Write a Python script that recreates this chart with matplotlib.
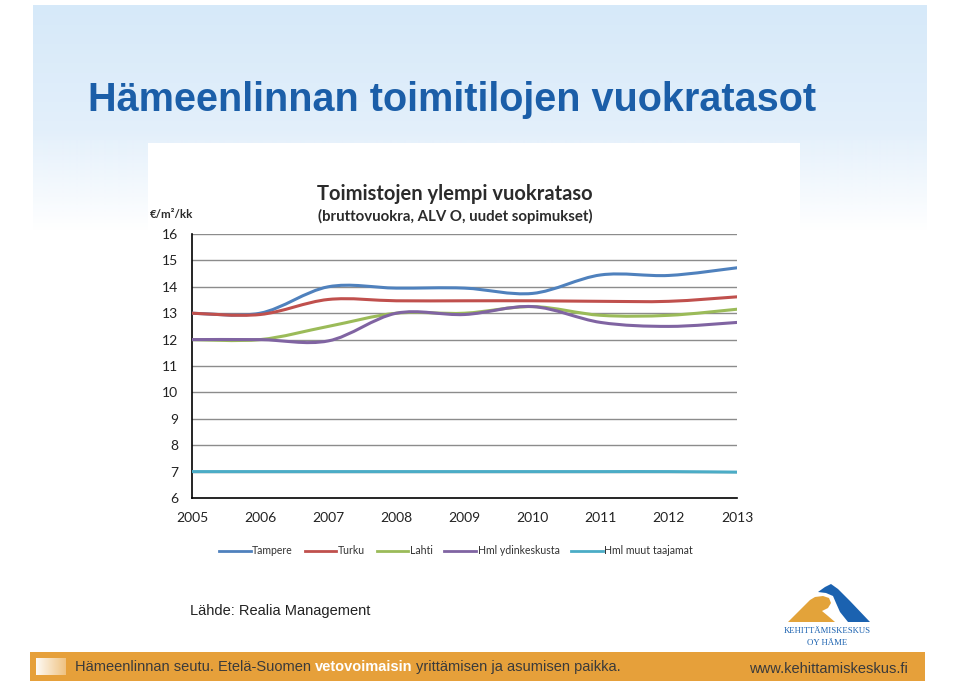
import numpy as np
import matplotlib
matplotlib.use("Agg")
import matplotlib.pyplot as plt
from matplotlib.path import Path
from matplotlib.patches import PathPatch, Rectangle, Polygon
from matplotlib.lines import Line2D

# ---------------- data ----------------
years = [2005, 2006, 2007, 2008, 2009, 2010, 2011, 2012, 2013]
tampere = [13.0, 13.0, 14.0, 13.95, 13.95, 13.75, 14.45, 14.43, 14.72]
turku = [13.0, 12.95, 13.52, 13.47, 13.47, 13.47, 13.45, 13.45, 13.62]
lahti = [12.0, 12.0, 12.5, 13.0, 13.0, 13.25, 12.92, 12.92, 13.15]
hml_ydin = [12.0, 12.0, 11.95, 13.0, 12.95, 13.25, 12.65, 12.5, 12.65]
hml_muut = [7.0, 7.0, 7.0, 7.0, 7.0, 7.0, 7.0, 7.0, 6.98]
series_names = ["Tampere", "Turku", "Lahti", "Hml ydinkeskusta", "Hml muut taajamat"]
series_values = [tampere, turku, lahti, hml_ydin, hml_muut]
series_colors = ["#4F81BD", "#C0504D", "#9BBB59", "#8064A2", "#4BACC6"]
y_ticks = list(range(6, 17))

W, H = 960, 687
fig = plt.figure(figsize=(W / 100, H / 100), dpi=100)
fig.patch.set_facecolor("white")

# ---------------- background / decoration (pixel coordinates) ----------------
bg = fig.add_axes([0, 0, 1, 1], zorder=0)
bg.set_xlim(0, W)
bg.set_ylim(H, 0)
bg.axis("off")

# light blue gradient band at top
gy0, gy1 = 5, 230
hh = gy1 - gy0
img = np.ones((hh, 2, 4))
top = np.array([214, 233, 249]) / 255.0
mid = np.array([228, 240, 251]) / 255.0
for i in range(hh):
    t = i / hh
    col = top + (mid - top) * min(1.0, t / 0.6)
    a = 1.0 if i < 125 else max(0.0, 1 - (i - 125) / (hh - 125))
    img[i, :, :3] = col
    img[i, :, 3] = a
bg.imshow(img, extent=(33, 927, gy1, gy0), aspect="auto", interpolation="bilinear", zorder=1)
# white chart box
bg.add_patch(Rectangle((148, 143), 652, 440, facecolor="white", edgecolor="none", zorder=2))

# main title
bg.text(88, 100, "Hämeenlinnan toimitilojen vuokratasot", fontsize=28.5, fontweight="bold",
        color="#1b5ea8", family="Liberation Sans", va="center", ha="left", zorder=3)

# chart titles
bg.text(455, 194, "Toimistojen ylempi vuokrataso", fontsize=14.5, fontweight="bold",
        color="#2b2b2b", family="Lato", va="center", ha="center", zorder=3)
bg.text(455, 216, "(bruttovuokra, ALV O, uudet sopimukset)", fontsize=10.8, fontweight="bold",
        color="#2b2b2b", family="Lato", va="center", ha="center", zorder=3)
bg.text(150, 214, "€/m²/kk", fontsize=8.3, fontweight="bold",
        color="#2b2b2b", family="Lato", va="center", ha="left", zorder=3)

# source
bg.text(190, 611, "Lähde: Realia Management", fontsize=10.5, color="#222222",
        family="Liberation Sans", va="center", ha="left", zorder=3)

# logo
orange = "#E3A33A"
blue = "#1B62B0"
bg.add_patch(Polygon([(788, 622), (800, 610), (810, 600), (815, 597), (823, 596),
                      (829, 598), (831, 603), (828, 608), (822, 611), (828, 616),
                      (835, 622)],
                     closed=True, facecolor=orange, edgecolor="none", zorder=3))
bg.add_patch(Polygon([(818, 592), (825, 587), (831, 584), (838, 589), (850, 601),
                      (870, 622), (848, 622), (840, 612), (836, 603), (833, 596),
                      (826, 593)],
                     closed=True, facecolor=blue, edgecolor="none", zorder=3))
bg.text(827, 631, "KEHITTÄMISKESKUS", fontsize=6.3, color=blue, family="Liberation Serif",
        va="center", ha="center", zorder=3)
bg.text(827, 643, "OY HÄME", fontsize=6.3, color=blue, family="Liberation Serif",
        va="center", ha="center", zorder=3)

# bottom banner
bg.add_patch(Rectangle((30, 652), 895, 29, facecolor="#E6A03A", edgecolor="none", zorder=2))
sq = np.ones((1, 30, 4))
for j in range(30):
    sq[0, j, :3] = 1.0
    sq[0, j, 3] = 0.95 - 0.6 * j / 30
bg.imshow(sq, extent=(36, 66, 675, 658), aspect="auto", interpolation="bilinear", zorder=3)

banner_kw = dict(fontsize=10.5, family="Liberation Sans", va="center", zorder=4)
t1 = bg.text(75, 667, "Hämeenlinnan seutu. Etelä-Suomen ", color="#3a3a3a", ha="left", **banner_kw)
fig.canvas.draw()
r = fig.canvas.get_renderer()
bb = t1.get_window_extent(r)
x2 = bb.x1
t2 = bg.text(x2, H - 667, "vetovoimaisin", color="white", fontweight="bold", ha="left",
             transform=None, **banner_kw)
bb2 = t2.get_window_extent(r)
bg.text(bb2.x1 + 3, H - 667, "yrittämisen ja asumisen paikka.", color="#3a3a3a", ha="left",
        transform=None, **banner_kw)
bg.text(908, 669, "www.kehittamiskeskus.fi", color="#3a3a3a", ha="right", **banner_kw)

# ---------------- chart ----------------
ax = fig.add_axes([192 / W, 1 - 498 / H, (737 - 192) / W, (498 - 234) / H], zorder=5)
ax.patch.set_alpha(0)
ax.set_xlim(years[0], years[-1])
ax.set_ylim(6, 16)
ax.set_yticks(y_ticks)
ax.set_xticks(years)
ax.set_xticklabels([str(y) for y in years])
ax.tick_params(axis="both", length=0, labelsize=10, labelcolor="#222222")
ax.tick_params(axis="y", pad=10)
ax.tick_params(axis="x", pad=10)
for lab in ax.get_xticklabels() + ax.get_yticklabels():
    lab.set_family("Lato")
for yv in y_ticks[1:]:
    ax.axhline(yv, color="#8c8c8c", lw=1.0, zorder=1)
for s in ["top", "right"]:
    ax.spines[s].set_visible(False)
ax.spines["left"].set_color("black")
ax.spines["bottom"].set_color("black")
ax.spines["left"].set_linewidth(1.2)
ax.spines["bottom"].set_linewidth(1.2)


def smooth_path(xs, ys):
    P = np.column_stack([xs, ys]).astype(float)
    n = len(P)
    verts = [P[0]]
    codes = [Path.MOVETO]
    for i in range(n - 1):
        p0 = P[i - 1] if i > 0 else P[i]
        p1 = P[i]
        p2 = P[i + 1]
        p3 = P[i + 2] if i + 2 < n else P[i + 1]
        c1 = p1 + (p2 - p0) / 6.0
        c2 = p2 - (p3 - p1) / 6.0
        verts += [c1, c2, p2]
        codes += [Path.CURVE4] * 3
    return Path(verts, codes)


handles = []
for name, vals, col in zip(series_names, series_values, series_colors):
    patch = PathPatch(smooth_path(years, vals), facecolor="none", edgecolor=col,
                      lw=2.2, transform=ax.transData, zorder=3, capstyle="round")
    ax.add_patch(patch)
    handles.append(Line2D([0], [0], color=col, lw=2.0))

leg = fig.legend(handles, series_names, loc="center", bbox_to_anchor=(456 / W, 1 - 551 / H),
                 ncol=5, frameon=False, handlelength=3.0, handletextpad=0.15,
                 columnspacing=1.1, prop={"family": "Lato", "size": 7.6})
for t in leg.get_texts():
    t.set_color("#333333")

fig.savefig("out.png", dpi=100, facecolor="white")
